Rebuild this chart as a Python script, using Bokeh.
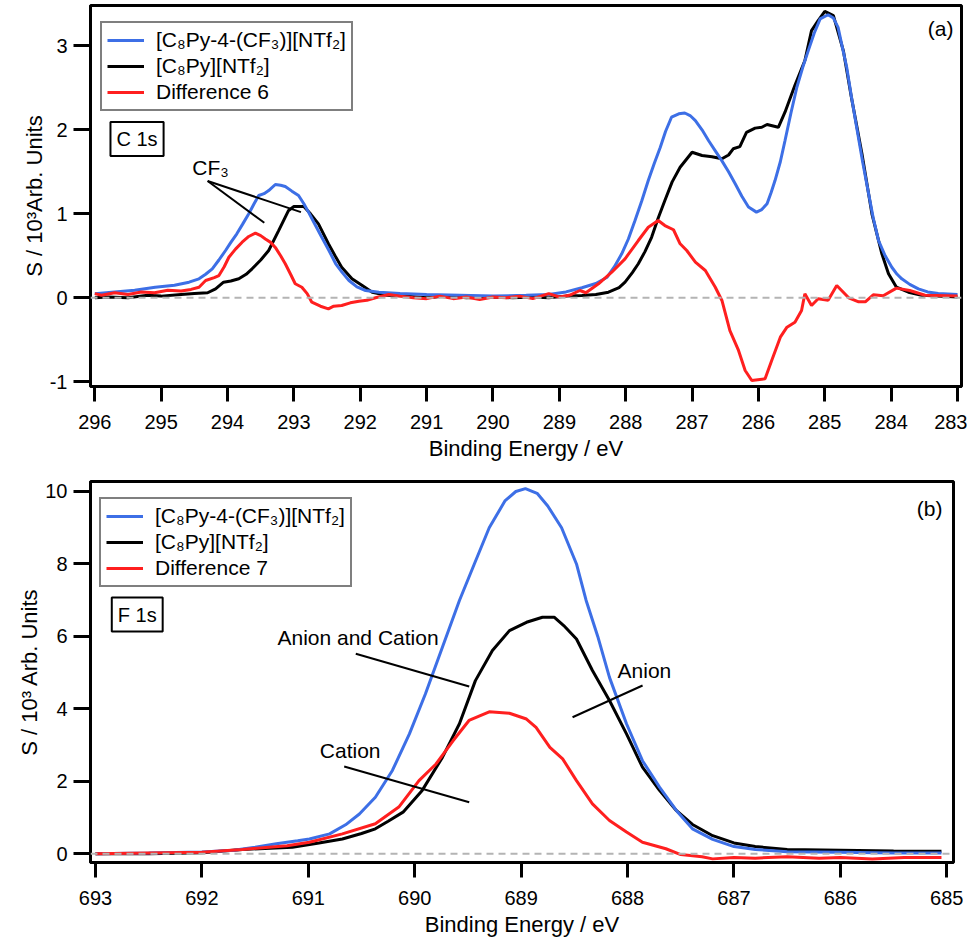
from bokeh.plotting import figure
from bokeh.models import (Range1d, FixedTicker, Span, Label, Legend, LegendItem)
from bokeh.layouts import column
from bokeh.embed import file_html
from bokeh.resources import INLINE

FONT = "Liberation Sans"
BLUE = "#3d6fe6"
RED = "#ff1f1f"
BLACK = "#000000"

# ---------------- Panel (a): C 1s ----------------
a_black_x = [296.0, 295.8, 295.5, 295.2, 295.0, 294.7, 294.5, 294.3, 294.18, 294.06, 293.95, 293.83, 293.72, 293.63,
             293.5, 293.38, 293.23, 293.08, 293.0, 292.85, 292.75, 292.63, 292.48, 292.38, 292.28, 292.125, 291.97,
             291.82, 291.6, 291.3, 291.0, 290.7, 290.4, 290.0, 289.7, 289.4, 289.16, 288.9, 288.66, 288.45, 288.26,
             288.1, 288.01, 287.9, 287.81, 287.71, 287.61, 287.51, 287.41, 287.3, 287.18, 287.0, 286.85, 286.7,
             286.55, 286.45, 286.38, 286.28, 286.18, 286.05, 285.95, 285.87, 285.7, 285.6, 285.45, 285.3, 285.2,
             285.1, 285.0, 284.87, 284.72, 284.6, 284.44, 284.29, 284.14, 284.04, 283.92, 283.74, 283.54, 283.3, 283.0]
a_black_y = [0.0, 0.01, 0.0, 0.03, 0.02, 0.04, 0.05, 0.06, 0.107, 0.186, 0.2, 0.226, 0.28, 0.345,
             0.45, 0.563, 0.80, 1.04, 1.087, 1.087, 1.0, 0.88, 0.643, 0.5, 0.364, 0.226, 0.146,
             0.067, 0.03, 0.02, 0.0, 0.02, 0.0, 0.01, 0.0, 0.01, 0.0, 0.02, 0.027, 0.04, 0.067,
             0.12, 0.186, 0.3, 0.405, 0.55, 0.72, 0.95, 1.158, 1.38, 1.555, 1.733, 1.694, 1.68,
             1.655, 1.7, 1.774, 1.80, 1.97, 2.02, 2.03, 2.063, 2.03, 2.21, 2.53, 2.825, 3.18,
             3.3, 3.41, 3.36, 2.94, 2.39, 1.714, 1.0, 0.524, 0.286, 0.126, 0.067, 0.03, 0.02, 0.01]

a_blue_x = [296.0, 295.7, 295.4, 295.09, 294.8, 294.58, 294.43, 294.33, 294.23, 294.13, 294.03, 293.95, 293.86,
            293.77, 293.68, 293.6, 293.53, 293.45, 293.38, 293.28, 293.2, 293.13, 293.03, 292.93, 292.85, 292.78,
            292.68, 292.58, 292.47, 292.37, 292.27, 292.17, 292.05, 291.92, 291.72, 291.4, 291.0, 290.5, 290.0,
            289.5, 289.16, 288.9, 288.66, 288.45, 288.28, 288.17, 288.06, 287.96, 287.86, 287.76, 287.66, 287.57,
            287.48, 287.4, 287.31, 287.2, 287.11, 287.03, 286.95, 286.85, 286.75, 286.65, 286.55, 286.45, 286.35,
            286.25, 286.15, 286.03, 285.95, 285.87, 285.81, 285.75, 285.67, 285.6, 285.51, 285.42, 285.33, 285.25,
            285.16, 285.07, 284.95, 284.87, 284.8, 284.74, 284.67, 284.6, 284.52, 284.43, 284.34, 284.27, 284.19,
            284.09, 283.99, 283.91, 283.84, 283.72, 283.59, 283.45, 283.29, 283.0]
a_blue_y = [0.048, 0.07, 0.09, 0.126, 0.15, 0.186, 0.226, 0.28, 0.345, 0.45, 0.563, 0.66, 0.762,
            0.88, 1.0, 1.12, 1.218, 1.24, 1.277, 1.349, 1.34, 1.325, 1.27, 1.218, 1.12, 1.02,
            0.87, 0.72, 0.56, 0.405, 0.3, 0.206, 0.13, 0.087, 0.067, 0.05, 0.04, 0.03, 0.02,
            0.03, 0.04, 0.07, 0.119, 0.17, 0.245, 0.37, 0.524, 0.7, 0.92, 1.15, 1.396, 1.6,
            1.79, 1.98, 2.15, 2.19, 2.20, 2.17, 2.11, 2.0, 1.87, 1.75, 1.63, 1.5, 1.357,
            1.21, 1.08, 1.02, 1.05, 1.12, 1.25, 1.396, 1.62, 1.87, 2.2, 2.51, 2.75, 2.94,
            3.15, 3.32, 3.37, 3.33, 3.22, 3.0, 2.745, 2.4, 2.03, 1.62, 1.24, 0.95, 0.68,
            0.5, 0.364, 0.28, 0.226, 0.16, 0.107, 0.07, 0.05, 0.04]

a_red_x = [296.0, 295.9, 295.7, 295.5, 295.3, 295.1, 294.9, 294.7, 294.55, 294.43, 294.33, 294.2, 294.13, 294.05,
           293.98, 293.88, 293.78, 293.68, 293.58, 293.5, 293.43, 293.35, 293.28, 293.2, 293.13, 293.05, 292.98,
           292.88, 292.8, 292.73, 292.6, 292.48, 292.4, 292.28, 292.15, 292.02, 291.9, 291.77, 291.57, 291.4,
           291.2, 291.0, 290.8, 290.6, 290.4, 290.2, 290.0, 289.8, 289.6, 289.4, 289.16, 289.0, 288.85, 288.69,
           288.6, 288.41, 288.21, 288.01, 287.81, 287.66, 287.51, 287.41, 287.28, 287.18, 287.08, 286.95, 286.8,
           286.65, 286.55, 286.43, 286.3, 286.2, 286.1, 285.9, 285.8, 285.67, 285.57, 285.45, 285.35, 285.3,
           285.2, 285.1, 284.95, 284.82, 284.64, 284.49, 284.39, 284.27, 284.12, 283.92, 283.72, 283.49, 283.0]
a_red_y = [0.05, 0.03, 0.06, 0.04, 0.07, 0.06, 0.09, 0.08, 0.1, 0.126, 0.206, 0.24, 0.265, 0.37,
           0.483, 0.58, 0.662, 0.73, 0.77, 0.74, 0.70, 0.66, 0.60, 0.5, 0.405, 0.28, 0.167,
           0.126, 0.05, -0.052, -0.1, -0.131, -0.1, -0.092, -0.06, -0.04, -0.03, 0.0, 0.04, 0.02,
           0.0, -0.01, 0.02, -0.01, 0.01, -0.02, 0.01, 0.0, 0.02, -0.01, 0.05, 0.01, 0.03, 0.087,
           0.06, 0.167, 0.305, 0.464, 0.682, 0.84, 0.92, 0.86, 0.81, 0.643, 0.563, 0.424, 0.325,
           0.126, -0.032, -0.39, -0.627, -0.865, -0.985, -0.965, -0.746, -0.469, -0.35, -0.29, -0.151, 0.048,
           -0.092, -0.012, -0.03, 0.146, 0.0, -0.048, -0.048, 0.036, 0.024, 0.115, 0.087, 0.03, 0.02]

a_xticks = [296, 295, 294, 293, 292, 291, 290, 289, 288, 287, 286, 285, 284, 283]
a_yticks = [-1, 0, 1, 2, 3]

# ---------------- Panel (b): F 1s ----------------
b_blue_x = [693.0, 692.5, 692.0, 691.7, 691.5, 691.3, 691.1, 690.99, 690.8, 690.65, 690.52, 690.37, 690.21,
            690.05, 689.9, 689.74, 689.58, 689.44, 689.3, 689.15, 689.05, 688.96, 688.85, 688.75, 688.62, 688.48,
            688.39, 688.28, 688.17, 688.01, 687.86, 687.7, 687.54, 687.39, 687.2, 687.0, 686.8, 686.5, 686.0,
            685.5, 685.05]
b_blue_y = [0.0, 0.02, 0.05, 0.1, 0.18, 0.28, 0.36, 0.41, 0.55, 0.8, 1.1, 1.56, 2.30,
            3.31, 4.41, 5.70, 6.99, 8.0, 9.0, 9.75, 10.0, 10.08, 9.95, 9.6, 9.0, 8.0,
            7.0, 6.0, 4.87, 3.59, 2.57, 1.84, 1.19, 0.69, 0.4, 0.2, 0.12, 0.06, 0.04,
            0.02, 0.02]

b_black_x = [693.0, 692.5, 692.0, 691.62, 691.15, 690.9, 690.68, 690.5, 690.37, 690.25, 690.11, 689.93, 689.74,
             689.58, 689.43, 689.27, 689.11, 688.95, 688.8, 688.69, 688.6, 688.48, 688.33, 688.17, 688.01, 687.86,
             687.7, 687.54, 687.39, 687.2, 687.0, 686.8, 686.5, 686.0, 685.5, 685.05]
b_black_y = [0.0, 0.0, 0.03, 0.12, 0.18, 0.3, 0.41, 0.56, 0.69, 0.9, 1.15, 1.75, 2.66,
             3.59, 4.78, 5.61, 6.16, 6.39, 6.53, 6.53, 6.3, 5.93, 5.06, 4.23, 3.31, 2.39,
             1.75, 1.19, 0.81, 0.5, 0.3, 0.2, 0.12, 0.1, 0.08, 0.07]

b_red_x = [693.0, 692.5, 692.0, 691.62, 691.2, 690.99, 690.68, 690.37, 690.15, 689.96, 689.8, 689.64, 689.49,
           689.3, 689.11, 688.95, 688.86, 688.73, 688.61, 688.48, 688.33, 688.17, 688.01, 687.86, 687.64, 687.5,
           687.3, 687.2, 687.0, 686.8, 686.5, 686.2, 686.0, 685.7, 685.4, 685.05]
b_red_y = [0.0, 0.02, 0.04, 0.12, 0.22, 0.32, 0.55, 0.83, 1.29, 2.02, 2.48, 3.12, 3.68,
           3.92, 3.88, 3.72, 3.49, 2.94, 2.62, 2.02, 1.38, 0.92, 0.60, 0.32, 0.14, -0.02,
           -0.08, -0.14, -0.1, -0.12, -0.08, -0.12, -0.1, -0.14, -0.1, -0.1]

b_xticks = [693, 692, 691, 690, 689, 688, 687, 686, 685]
b_yticks = [0, 2, 4, 6, 8, 10]

LEG_BLUE = "[C\u2088Py-4-(CF\u2083)][NTf\u2082]"
LEG_BLACK = "[C\u2088Py][NTf\u2082]"


def style(p, xticks, yticks, ylabel):
    p.outline_line_color = "black"
    p.outline_line_width = 3
    p.grid.visible = False
    p.background_fill_color = "white"
    p.border_fill_color = "white"
    for ax in (p.xaxis[0], p.yaxis[0]):
        ax.axis_line_width = 3
        ax.axis_line_color = "black"
        ax.major_tick_line_width = 3
        ax.major_tick_line_color = "black"
        ax.minor_tick_line_color = None
        ax.major_tick_in = 0
        ax.major_label_text_font = FONT
        ax.major_label_text_font_size = "20px"
        ax.major_label_text_color = "black"
        ax.axis_label_text_font = FONT
        ax.axis_label_text_font_size = "22px"
        ax.axis_label_text_font_style = "normal"
        ax.axis_label_text_color = "black"
    p.xaxis[0].ticker = FixedTicker(ticks=xticks)
    p.yaxis[0].ticker = FixedTicker(ticks=yticks)
    p.yaxis[0].major_label_overrides = {-1: "-1"}
    p.xaxis[0].major_tick_out = 15
    p.yaxis[0].major_tick_out = 17
    p.xaxis[0].major_label_standoff = 13
    p.yaxis[0].major_label_standoff = 6
    p.xaxis[0].axis_label = "Binding Energy / eV"
    p.xaxis[0].axis_label_standoff = 4
    p.yaxis[0].axis_label = ylabel
    p.yaxis[0].axis_label_standoff = 0
    p.add_layout(Span(location=0, dimension="width", line_color="#b4b4b4",
                      line_width=2, line_dash="7 5"))


def legend(p, r_blue, r_black, r_red, diff_label, loc):
    lg = Legend(items=[LegendItem(label=LEG_BLUE, renderers=[r_blue]),
                       LegendItem(label=LEG_BLACK, renderers=[r_black]),
                       LegendItem(label=diff_label, renderers=[r_red])],
                location=loc, margin=0, padding=5, spacing=2,
                label_text_font=FONT, label_text_font_size="21px", label_text_color="black",
                label_standoff=12, glyph_width=37, glyph_height=22, label_height=22,
                border_line_color="black", border_line_width=2,
                background_fill_color="white", background_fill_alpha=1.0)
    p.add_layout(lg)


def boxed(p, x, y, text):
    p.add_layout(Label(x=x, y=y, text=text, text_font=FONT, text_font_size="20px",
                       text_color="black", text_baseline="middle", text_align="left",
                       border_line_color="black", border_line_width=2,
                       background_fill_color="white", padding=6))


def note(p, x, y, text, align="left"):
    p.add_layout(Label(x=x, y=y, text=text, text_font=FONT, text_font_size="21px",
                       text_color="black", text_baseline="middle", text_align=align))


# ---- figure a
pa = figure(frame_width=871, frame_height=381, min_border_left=83, min_border_right=13,
            min_border_top=5, min_border_bottom=82,
            x_range=Range1d(296.065, 282.94), y_range=Range1d(-1.056, 3.48),
            output_backend="svg", toolbar_location=None)
style(pa, a_xticks, a_yticks, "S / 10\u00b3Arb. Units")
rk = pa.line(a_black_x, a_black_y, line_color=BLACK, line_width=3)
rb = pa.line(a_blue_x, a_blue_y, line_color=BLUE, line_width=3)
rr = pa.line(a_red_x, a_red_y, line_color=RED, line_width=3)
legend(pa, rb, rk, rr, "Difference 6", (10, 275))
boxed(pa, 295.764, 1.891, "C 1s")
note(pa, 283.06, 3.208, "(a)", align="right")
note(pa, 294.53, 1.555, "CF\u2083")
pa.segment(x0=[294.30, 294.30], y0=[1.391, 1.391], x1=[293.446, 292.894], y1=[0.893, 1.02],
           line_color="black", line_width=2)

# ---- figure b
pb = figure(frame_width=863, frame_height=381, min_border_left=90, min_border_right=10,
            min_border_top=13, min_border_bottom=72,
            x_range=Range1d(693.047, 684.937), y_range=Range1d(-0.24, 10.276),
            output_backend="svg", toolbar_location=None)
style(pb, b_xticks, b_yticks, "S / 10\u00b3 Arb. Units")
qk = pb.line(b_black_x, b_black_y, line_color=BLACK, line_width=3)
qb = pb.line(b_blue_x, b_blue_y, line_color=BLUE, line_width=3)
qr = pb.line(b_red_x, b_red_y, line_color=RED, line_width=3)
legend(pb, qb, qk, qr, "Difference 7", (9, 275))
boxed(pb, 692.847, 6.605, "F 1s")
note(pb, 685.04, 9.531, "(b)", align="right")
note(pb, 691.29, 5.97, "Anion and Cation")
note(pb, 688.094, 5.06, "Anion")
note(pb, 690.892, 2.851, "Cation")
pb.segment(x0=[690.554, 687.859, 690.663], y0=[5.52, 4.645, 2.41],
           x1=[689.488, 688.517, 689.488], y1=[4.618, 3.77, 1.424],
           line_color="black", line_width=2)

layout = column(pa, pb, spacing=0)
open("out.html", "w").write(file_html(layout, INLINE))
